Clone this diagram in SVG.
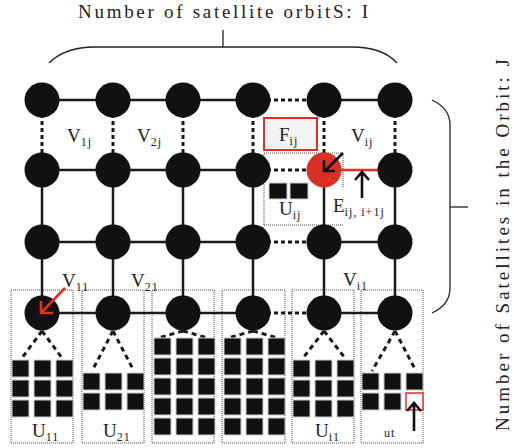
<svg xmlns="http://www.w3.org/2000/svg" width="514" height="448" viewBox="0 0 514 448">
<style>
.t{font-family:"Liberation Serif","DejaVu Serif",serif;fill:#222}
.big{font-size:19px}
.lab{font-size:19px}
.sub{font-size:12px;letter-spacing:1px}
.node{fill:#111}
.red{fill:#d93025}
.e{stroke:#1a1a1a;stroke-width:2.5;fill:none}
.d{stroke:#1a1a1a;stroke-width:3;fill:none;stroke-dasharray:4 3}
.dl{stroke:#1a1a1a;stroke-width:3;fill:none;stroke-dasharray:5 4}
.box{fill:none;stroke:#444;stroke-width:1;stroke-dasharray:1 1}
.sq{fill:#111;stroke:#ccc;stroke-width:1}
.br{fill:none;stroke:#222;stroke-width:1.3}
.ak{fill:none;stroke:#111;stroke-width:2.6}
.ar{fill:none;stroke:#e03020;stroke-width:2.6}
</style>
<rect width="514" height="448" fill="#fff"/>

<g id="title">
<text class="t big" x="223" y="18" text-anchor="middle" textLength="290" lengthAdjust="spacing">Number of satellite orbitS: I</text>
<path class="br" d="M49,63 C60,52 75,47 95,47 H352 C372,47 387,52 397,63"/>
<path class="br" d="M223,30 V47"/>
</g>
<g id="side">
<path class="br" d="M432,100 C445,106 450,114 450,125 V288 C450,299 445,307 432,313"/>
<path class="br" d="M450,207 H468"/>
<text class="t big" transform="translate(509,245) rotate(-90)" text-anchor="middle" textLength="372" lengthAdjust="spacing">Number of Satellites in the Orbit: J</text>
</g>

<g id="boxes">
<rect class="box" x="11" y="290" width="62" height="153"/>
<rect class="box" x="82" y="290" width="62" height="153"/>
<rect class="box" x="152" y="290" width="62" height="153"/>
<rect class="box" x="222" y="290" width="63" height="153"/>
<rect class="box" x="292" y="290" width="62" height="153"/>
<rect class="box" x="361" y="290" width="62" height="153"/>
<path class="box" d="M264,225 V153 H343 V188 M264,225 H343"/>
</g>

<g id="connectors">
<path class="e" d="M42,100 H253 M324,100 H395"/>
<path class="d" d="M253,100 H324"/>
<path class="d" d="M42,100 V170 M113,100 V170 M183,100 V170 M253,100 V170 M324,100 V170 M395,100 V170"/>
<path class="e" d="M42,170 H253"/>
<path class="d" d="M253,170 H324"/>
<path d="M324,170 H395" stroke="#e03020" stroke-width="2.5"/>
<path class="e" d="M42,170 V313 M113,170 V313 M183,170 V313 M253,170 V313 M324,170 V313 M395,170 V313"/>
<path class="e" d="M42,242 H253 M324,242 H395"/>
<path class="d" d="M253,242 H324"/>
<path class="e" d="M42,313 H253 M324,313 H395"/>
<path class="d" d="M253,313 H324"/>
<path class="dl" d="M42,331 L22,358 M42,331 L62,358"/>
<path class="dl" d="M113,331 L92,371 M113,331 L134,371"/>
<path class="dl" d="M183,331 L158,338 M183,331 L208,338"/>
<path class="dl" d="M253,331 L228,338 M253,331 L278,338"/>
<path class="dl" d="M324,331 L303,358 M324,331 L345,358"/>
<path class="dl" d="M395,331 L372,371 M395,331 L416,371"/>
</g>

<g id="nodes">
<circle class="node" cx="42" cy="100" r="17.5"/><circle class="node" cx="113" cy="100" r="17.5"/><circle class="node" cx="183" cy="100" r="17.5"/><circle class="node" cx="253" cy="100" r="17.5"/><circle class="node" cx="324" cy="100" r="17.5"/><circle class="node" cx="395" cy="100" r="17.5"/>
<circle class="node" cx="42" cy="170" r="17.5"/><circle class="node" cx="113" cy="170" r="17.5"/><circle class="node" cx="183" cy="170" r="17.5"/><circle class="node" cx="253" cy="170" r="17.5"/><circle class="red" cx="324" cy="170" r="17.5"/><circle class="node" cx="395" cy="170" r="17.5"/>
<circle class="node" cx="42" cy="242" r="17.5"/><circle class="node" cx="113" cy="242" r="17.5"/><circle class="node" cx="183" cy="242" r="17.5"/><circle class="node" cx="253" cy="242" r="17.5"/><circle class="node" cx="324" cy="242" r="17.5"/><circle class="node" cx="395" cy="242" r="17.5"/>
<circle class="node" cx="42" cy="313" r="17.5"/><circle class="node" cx="113" cy="313" r="17.5"/><circle class="node" cx="183" cy="313" r="17.5"/><circle class="node" cx="253" cy="313" r="17.5"/><circle class="node" cx="324" cy="313" r="17.5"/><circle class="node" cx="395" cy="313" r="17.5"/>
</g>

<g id="users">
<rect class="sq" x="12" y="360" width="17" height="17"/><rect class="sq" x="34" y="360" width="17" height="17"/><rect class="sq" x="56" y="360" width="17" height="17"/>
<rect class="sq" x="12" y="380" width="17" height="17"/><rect class="sq" x="34" y="380" width="17" height="17"/><rect class="sq" x="56" y="380" width="17" height="17"/>
<rect class="sq" x="12" y="400" width="17" height="17"/><rect class="sq" x="34" y="400" width="17" height="17"/><rect class="sq" x="56" y="400" width="17" height="17"/>
<rect class="sq" x="83" y="373" width="17" height="17"/><rect class="sq" x="105" y="373" width="17" height="17"/><rect class="sq" x="127" y="373" width="17" height="17"/>
<rect class="sq" x="83" y="393" width="17" height="17"/><rect class="sq" x="105" y="393" width="17" height="17"/><rect class="sq" x="127" y="393" width="17" height="17"/>
<rect class="sq" x="154" y="338" width="17" height="17"/><rect class="sq" x="176" y="338" width="17" height="17"/><rect class="sq" x="198" y="338" width="17" height="17"/>
<rect class="sq" x="154" y="358" width="17" height="17"/><rect class="sq" x="176" y="358" width="17" height="17"/><rect class="sq" x="198" y="358" width="17" height="17"/>
<rect class="sq" x="154" y="378" width="17" height="17"/><rect class="sq" x="176" y="378" width="17" height="17"/><rect class="sq" x="198" y="378" width="17" height="17"/>
<rect class="sq" x="154" y="398" width="17" height="17"/><rect class="sq" x="176" y="398" width="17" height="17"/><rect class="sq" x="198" y="398" width="17" height="17"/>
<rect class="sq" x="154" y="418" width="17" height="17"/><rect class="sq" x="176" y="418" width="17" height="17"/><rect class="sq" x="198" y="418" width="17" height="17"/>
<rect class="sq" x="224" y="338" width="17" height="17"/><rect class="sq" x="246" y="338" width="17" height="17"/><rect class="sq" x="268" y="338" width="17" height="17"/>
<rect class="sq" x="224" y="358" width="17" height="17"/><rect class="sq" x="246" y="358" width="17" height="17"/><rect class="sq" x="268" y="358" width="17" height="17"/>
<rect class="sq" x="224" y="378" width="17" height="17"/><rect class="sq" x="246" y="378" width="17" height="17"/><rect class="sq" x="268" y="378" width="17" height="17"/>
<rect class="sq" x="224" y="398" width="17" height="17"/><rect class="sq" x="246" y="398" width="17" height="17"/><rect class="sq" x="268" y="398" width="17" height="17"/>
<rect class="sq" x="224" y="418" width="17" height="17"/><rect class="sq" x="246" y="418" width="17" height="17"/><rect class="sq" x="268" y="418" width="17" height="17"/>
<rect class="sq" x="293" y="360" width="17" height="17"/><rect class="sq" x="315" y="360" width="17" height="17"/><rect class="sq" x="337" y="360" width="17" height="17"/>
<rect class="sq" x="293" y="380" width="17" height="17"/><rect class="sq" x="315" y="380" width="17" height="17"/><rect class="sq" x="337" y="380" width="17" height="17"/>
<rect class="sq" x="293" y="400" width="17" height="17"/><rect class="sq" x="315" y="400" width="17" height="17"/><rect class="sq" x="337" y="400" width="17" height="17"/>
<rect class="sq" x="362" y="373" width="17" height="17"/><rect class="sq" x="384" y="373" width="17" height="17"/><rect class="sq" x="406" y="373" width="17" height="17"/>
<rect class="sq" x="362" y="393" width="17" height="17"/><rect class="sq" x="384" y="393" width="17" height="17"/>
<rect x="406" y="393" width="17" height="17" fill="#fff" stroke="#e03020" stroke-width="1.5"/>
<rect class="sq" x="269" y="183" width="18" height="16"/><rect class="sq" x="290" y="183" width="18" height="16"/>
</g>

<g id="fij">
<rect x="264" y="118" width="53" height="32" fill="#f3f3f3" stroke="#e03020" stroke-width="2"/>
</g>

<g id="arrows">
<path class="ak" d="M343,153 L325,171 M324,160 V171 H335"/>
<path class="ak" d="M362,198 L362,173 M355,180 L362,172 L369,180"/>
<path class="ak" d="M414,431 L414,404 M407,411 L414,403 L421,411"/>
<path class="ar" d="M65,288 L42,312 M41,301 V313 H53"/>
</g>

<g id="labels">
<text class="t lab" x="67" y="142">V<tspan class="sub" dy="4">1j</tspan></text>
<text class="t lab" x="137" y="142">V<tspan class="sub" dy="4">2j</tspan></text>
<text class="t lab" x="279" y="141">F<tspan class="sub" dy="4">ij</tspan></text>
<text class="t lab" x="351" y="142">V<tspan class="sub" dy="4">ij</tspan></text>
<text class="t lab" x="279" y="215">U<tspan class="sub" dy="4">ij</tspan></text>
<text class="t lab" x="333" y="212">E<tspan class="sub" dy="4">ij, i+1j</tspan></text>
<text class="t lab" x="62" y="287">V<tspan class="sub" dy="4">11</tspan></text>
<text class="t lab" x="131" y="287">V<tspan class="sub" dy="4">21</tspan></text>
<text class="t lab" x="343" y="286">V<tspan class="sub" dy="4">i1</tspan></text>
<text class="t lab" x="32" y="437">U<tspan class="sub" dy="4">11</tspan></text>
<text class="t lab" x="103" y="437">U<tspan class="sub" dy="4">21</tspan></text>
<text class="t lab" x="315" y="437">U<tspan class="sub" dy="4">i1</tspan></text>
<text class="t sub" x="384" y="437">ut</text>
</g>
</svg>
